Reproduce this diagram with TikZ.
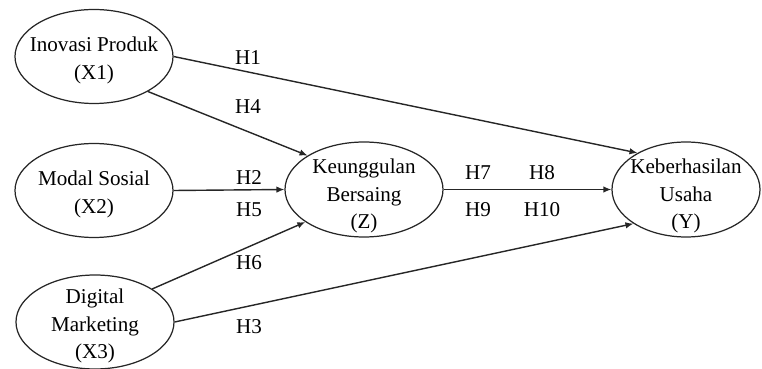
\documentclass[tikz,border=0pt]{standalone}
\usepackage{fontspec}
\setmainfont{Liberation Serif}
\usetikzlibrary{arrows.meta,shapes.geometric}

\tikzset{
  var/.style={ellipse,draw=black!85,line width=0.7pt,inner sep=0pt,minimum width=3.16cm,minimum height=1.88cm},
  vartext/.style={align=center,inner sep=0pt,yshift=-0.08cm,font=\fontsize{12}{15.5}\selectfont},
  hyp/.style={font=\fontsize{12}{14}\selectfont,inner sep=1pt},
  path/.style={line width=0.8pt,draw=black!85,-{Latex[length=1.6mm,width=1.3mm]}}
}

\begin{document}
\begin{tikzpicture}[>=Latex]
    \useasboundingbox (0,0) rectangle (15.24,7.36);
    % konstruk
    \node[var] (x1) at (1.88,6.23) {};
    \node[var] (x2) at (1.88,3.55) {};
    \node[var] (x3) at (1.90,0.92) {};
    \node[var,minimum height=1.9cm] (z) at (7.28,3.57) {};
    \node[var,minimum width=2.96cm,minimum height=1.9cm] (y) at (13.72,3.57) {};
    \node[vartext] (x1t) at (x1) {Inovasi Produk\\(X1)};
    \node[vartext] (x2t) at (x2) {Modal Sosial\\(X2)};
    \node[vartext] (x3t) at (x3) {Digital\\Marketing\\(X3)};
    \node[vartext,yshift=-0.05cm] (zt) at (z) {Keunggulan\\Bersaing\\(Z)};
    \node[vartext,yshift=-0.05cm] (yt) at (y) {Keberhasilan\\Usaha\\(Y)};
    % jalur
    \draw[path] (x1.east) -- (y.143);
    \draw[path] (x1.-33) -- (z.149);
    \draw[path] (x2.east) -- (z.west);
    \draw[path] (x3.30) -- (z.209);
    \draw[path] (x3.east) -- (y.213);
    \draw[path] (z.east) -- (y.west);
    % hipotesis
    \node[hyp] (h1) at (4.96,6.20) {H1};
    \node[hyp] (h4) at (4.96,5.22) {H4};
    \node[hyp] (h2) at (4.98,3.80) {H2};
    \node[hyp] (h5) at (4.98,3.16) {H5};
    \node[hyp] (h6) at (4.98,2.10) {H6};
    \node[hyp] (h3) at (4.98,0.82) {H3};
    \node[hyp] (h7) at (9.56,3.90) {H7};
    \node[hyp] (h8) at (10.84,3.90) {H8};
    \node[hyp] (h9) at (9.56,3.16) {H9};
    \node[hyp] (h10) at (10.84,3.16) {H10};
\end{tikzpicture}
\end{document}
